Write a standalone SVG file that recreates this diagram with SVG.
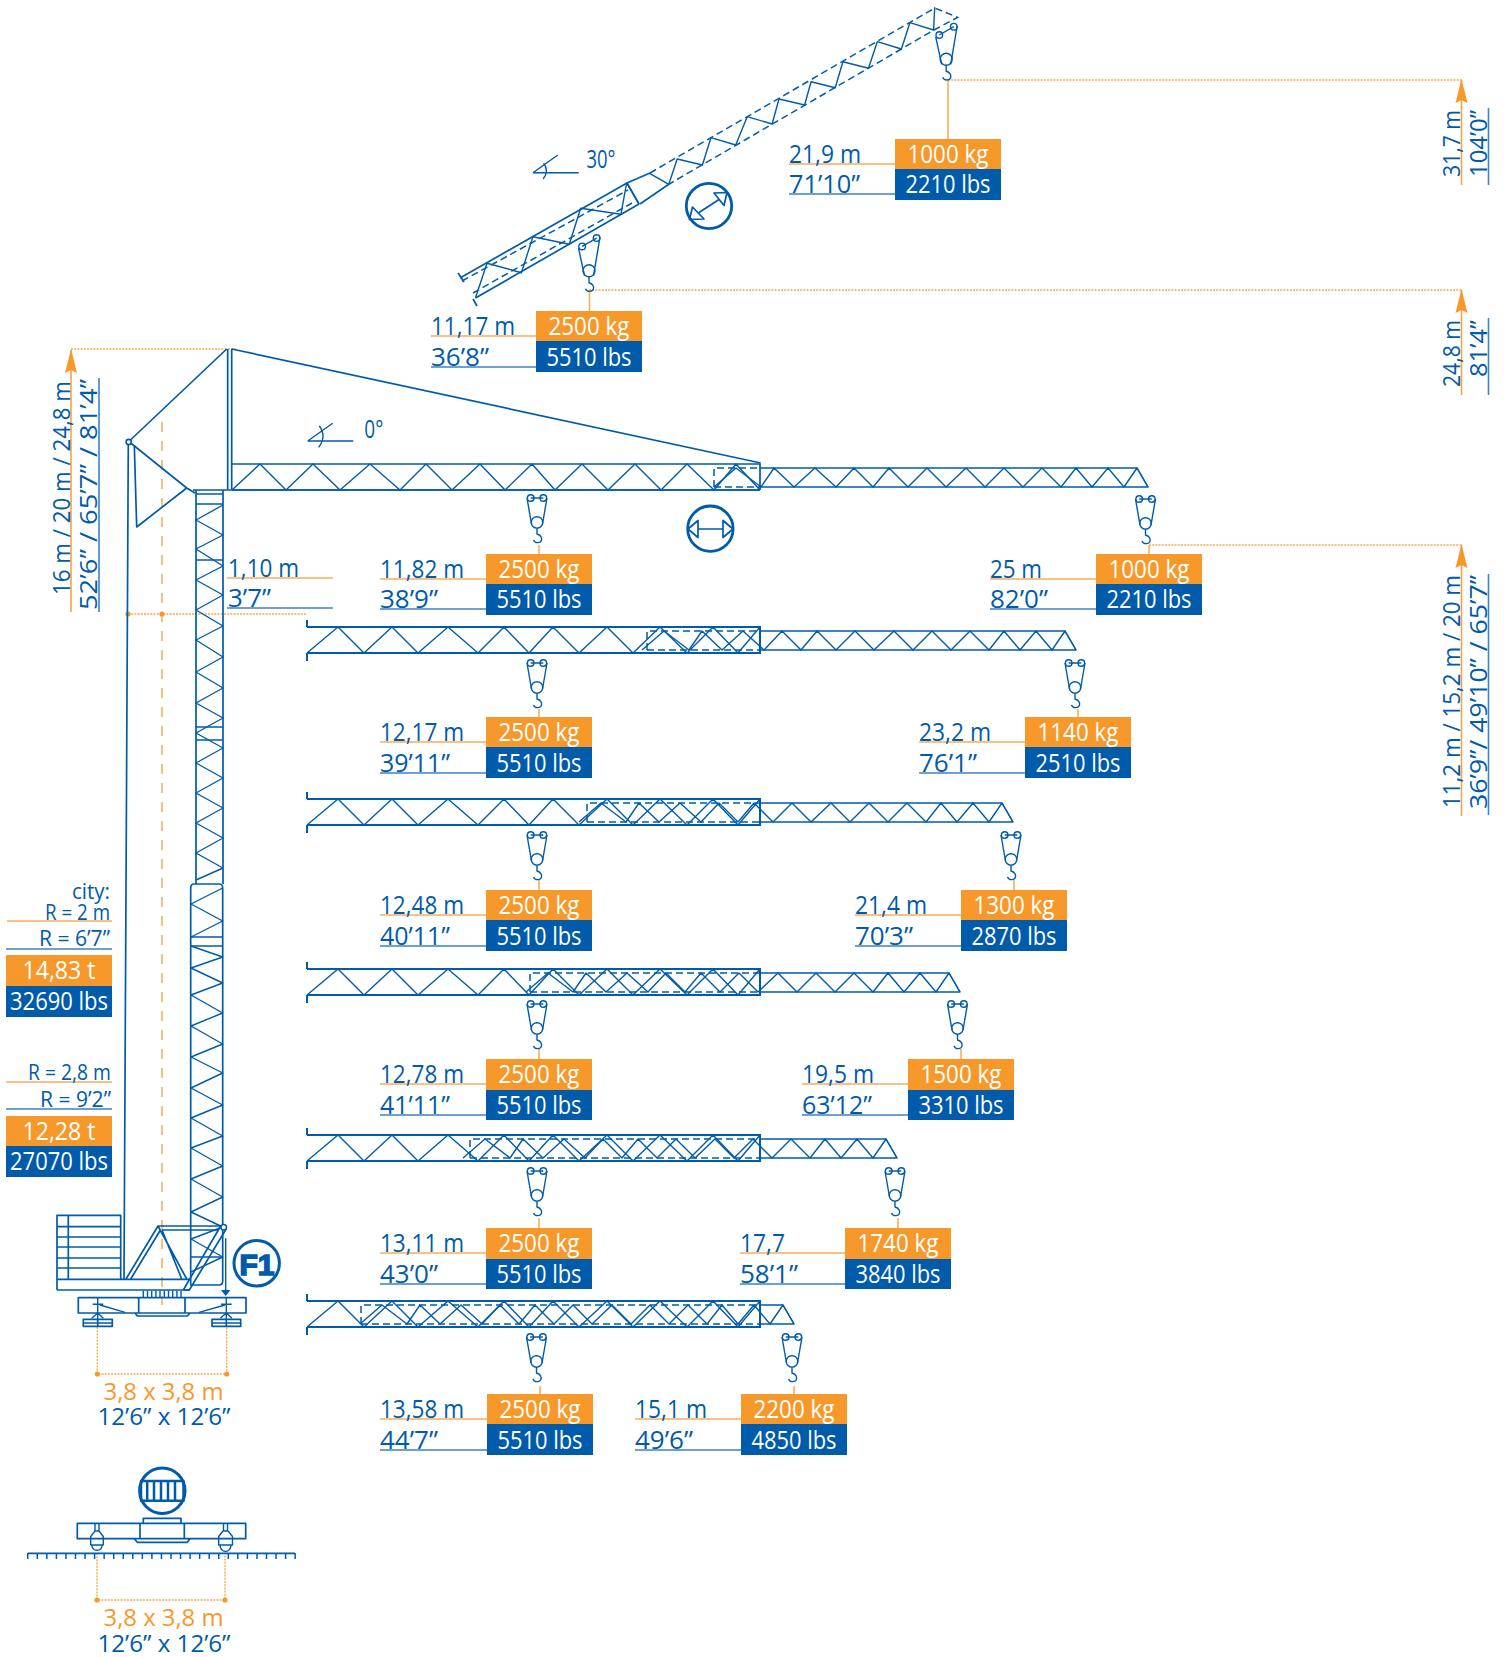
<svg xmlns="http://www.w3.org/2000/svg" width="1504" height="1657" viewBox="0 0 1504 1657">
<style>
text{font-family:"Open Sans","Noto Sans","DejaVu Sans",sans-serif;font-size:25.5px;fill:#005baa}
.w{fill:#fff;text-anchor:middle}
.o{fill:#f7982b}
.m{text-anchor:middle}
.e{text-anchor:end;font-size:21.5px}
.v{font-size:24px}
.s{fill:none;stroke:#005baa;stroke-width:1.7;stroke-linejoin:round}
.t{fill:none;stroke:#005baa;stroke-width:1.4;stroke-linejoin:round}
.d{fill:none;stroke:#005baa;stroke-width:1.5;stroke-dasharray:7 4}
.lo{fill:none;stroke:#f9ae5a;stroke-width:1.6}
.lb{fill:none;stroke:#3f83c0;stroke-width:1.6}
.dot{fill:none;stroke:#f8a94e;stroke-width:1.4;stroke-dasharray:2 1.2}
.dash{fill:none;stroke:#f9b96e;stroke-width:1.8;stroke-dasharray:10 9}
.fo{fill:#f7982b}
.fb{fill:#005baa}
</style>
<defs>
<g id="hook" class="t">
<circle cx="-6.3" cy="0" r="3.3"/><circle cx="6.3" cy="0" r="3.3"/><path d="M-6.3,0H6.3M-10,0L-5.5,26M10,0L5.5,26"/>
<circle cx="0" cy="24.4" r="5.7"/><path d="M0,30V36C4,37 5,40 4.5,42C4,45 -2,46 -3.5,42"/>
</g>
<g id="hookb" class="t">
<circle cx="-6.9" cy="-24.3" r="3.3"/><circle cx="7.6" cy="-32.6" r="3.3"/><path d="M-6.9,-24.3L7.6,-32.6M-10.5,-22.5L-4.5,5M11,-33.5L4.5,5"/>
<circle cx="0" cy="0" r="6"/><path d="M0,6V12C4,13 5,16 4.5,18C4,21 -2,22 -3.5,18"/>
</g>
<polyline id="tip" class="t" points="-434,19 -412,0 -387,19 -374,0 -354,19 -333,0 -312,19 -294,0 -275,19 -259,0 -240,19 -221,0 -202,19 -182,0 -163,19 -144,0 -125,19 -106,0 -87,19 -72,0 -56,19 -40,0 -24,19 -11,0 0,19"/>
<path id="base" fill="none" stroke="#005baa" stroke-width="2" d="M307,0H760V27M307,26H760M307,-7V0M307,26V34"/>
<polyline id="basez" class="t" points="307,26 338,0 364,26 392,0 418,26 448,0 478,26 504,0 529,26 553,0 579,26 607,0 633,26 660,0 687,26 713,0 738,26 760,0"/>
</defs>

<g id="connectors">
<path class="dot" d="M948,80H1462M589,290H1462M1149,545H1462M71,349H237M128,614H307M97.3,1327V1374H226.7V1327M97,1553V1600H225V1553"/>
<path class="dash" d="M162,422V1305"/>
<path class="lo" d="M948,80V139M589.5,290V311M539,545V554M1149,545V554M539,709V717M1078,709V717M539,880V890M1014,880V890M539,1049V1059M961,1049V1059M539,1218V1228M898,1218V1228M540,1386V1394M794,1386V1394"/>
<path class="lo" d="M789,164H895M431,336H536M380,579H486M990,579H1096M227,578H333M380,742H486M919,742H1025M380,915H486M855,915H961M380,1084H486M802,1084H908M380,1253H486M740,1253H845M380,1419H487M635,1419H741M7,921H112M6,1082H112"/>
<path class="lb" d="M789,194H895M431,367H536M380,609H486M990,609H1096M227,608H333M380,773H486M919,773H1025M380,946H486M855,946H961M380,1115H486M802,1115H908M380,1284H486M740,1284H845M380,1450H487M635,1450H741M6,949H112M6,1109H112M99,378V612M1488.5,108V185M1488.5,318V395M1488.5,574V815"/>
<path fill="none" stroke="#f7a445" stroke-width="1.6" d="M71,612V350M1461.5,185V80M1461.5,395V290M1461.5,816V545"/>
<path class="fo" d="M71,349L77,373L71,370L65,373ZM1461.5,79L1467.5,103L1461.5,100L1455.5,103ZM1461.5,289L1467.5,313L1461.5,310L1455.5,313ZM1461.5,544L1467.5,568L1461.5,565L1455.5,568Z"/>
<g class="fo"><circle cx="128" cy="614" r="2.6"/><circle cx="162" cy="614" r="2.6"/><circle cx="97.3" cy="1374" r="2.6"/><circle cx="226.7" cy="1374" r="2.6"/><circle cx="97" cy="1600" r="2.6"/><circle cx="225" cy="1600" r="2.6"/></g>
</g>

<g id="crane-mast">
<path class="s" d="M128.3,442L124,1279M128.3,442L226.7,349M227.7,349V490M231.7,349V490M231.7,349L760.7,463M130.7,443L186.7,488L195,493M134.3,445L136.7,527L186.7,488M193,490H760"/>
<circle cx="128.7" cy="442" r="2.6" fill="#fff" stroke="#005baa" stroke-width="1.6"/>
<path class="s" d="M196,490V884M223,490V884M196,494H223M196,504H223M196,560H223M196,727H223M196,740H223"/>
<polyline class="t" points="223,505 196,520 223,535 196,549 223,566 196,580 223,595 196,610 223,626 196,640 223,657 196,672 223,688 196,703 223,718 196,733 223,748 196,763 223,778 196,793 223,808 196,823 223,838 196,853 223,868 196,880"/>
<path class="s" d="M190.7,888Q190.7,884 194,884H219Q222.7,884 222.7,888V1281Q222.7,1285 219,1285H190.7V888M191,937H222.7M191,946H222.7M191,1257H222.7"/>
<polyline class="t" points="222.7,888 191,904 222.7,921 191,937"/>
<polyline class="t" points="191,946 222.7,957 191,968 222.7,983 191,995 222.7,1013 191,1026 222.7,1044 191,1057 222.7,1073 191,1088 222.7,1105 191,1118 222.7,1136 191,1148 222.7,1166 191,1179 222.7,1197 191,1212 222.7,1227 191,1239 222.7,1257 191,1272"/>
</g>

<g id="crane-base">
<path class="s" d="M57,1215.3H120.7V1279.3H57ZM57,1226.7H120.7M57,1237H120.7M57,1247H120.7M57,1258H120.7M57,1268H120.7M68.3,1215.3V1279.3M57,1279.3H190M57,1290H190M57,1279.3V1290"/>
<path class="s" d="M126,1279L158,1226H221.7M130.7,1279L160,1230.7M162.3,1230.7L181.7,1279M158,1226L186.7,1279M162,1230H218M183.3,1290L220.7,1226M189.3,1290L226,1229.3M183.3,1290H189.3"/>
<circle cx="223.7" cy="1227.3" r="2.8" fill="#fff" stroke="#005baa" stroke-width="1.5"/>
<path class="t" d="M143.3,1290.7V1297.7M147.5,1290.7V1297.7M151.7,1290.7V1297.7M155.9,1290.7V1297.7M160,1290.7V1297.7M164.3,1290.7V1297.7M168.5,1290.7V1297.7M172.7,1290.7V1297.7M176.9,1290.7V1297.7M181,1290.7V1297.7"/>
<path class="s" d="M78.3,1297.7H246V1313H78.3ZM138.7,1297.7V1313M185,1297.7V1313M135,1313L137.3,1316H187.3L190,1313"/>
<path class="t" d="M100,1305L125,1312.3M199,1312.3L225,1305M97.7,1297.7V1319M92.7,1304.3H103.3M91.7,1318.3L97.7,1313L103.3,1318.3M226.3,1297.7V1319M221,1304.3H231.7M220.3,1318.3L226.3,1313L232,1318.3"/>
<path class="s" d="M83.3,1319.3H112.3V1326.3H83.3ZM83.3,1323H112.3M97.7,1319.3V1326.3M212,1319.3H240.7V1326.3H212ZM212,1323H240.7M226.3,1319.3V1326.3"/>
<path class="t" d="M225.7,1238.3V1290"/><path class="fb" d="M221,1290H230.4L225.7,1296Z"/>
</g>

<g id="side-view">
<path class="s" d="M77.3,1523.3H245.7V1538.7H77.3ZM140,1523.3V1538.7M184.3,1523.3V1538.7M143.3,1523.3V1518.3H181V1523.3M134.3,1538.7L137.3,1542.3H187.3L190,1538.7"/>
<path class="t" d="M95,1523.3V1531M99,1523.3V1531M90.7,1545V1536.5L95,1531H99L103.3,1536.5V1545ZM91.7,1545A5.4,6.5 0 0 0 102.3,1545M223.5,1523.3V1531M227.5,1523.3V1531M218.7,1545V1536.5L223,1531H228L232.5,1536.5V1545ZM220,1545A5.5,6.5 0 0 0 231,1545"/>
<path class="s" d="M27.7,1553.3H295"/>
<path fill="none" stroke="#005baa" stroke-width="6" stroke-dasharray="1.5 8.05" d="M27,1556H297"/>
</g>

<g id="badge-grid"><circle cx="162.3" cy="1490.7" r="22.7" fill="#fff" stroke="#005baa" stroke-width="3"/>
<path fill="none" stroke="#005baa" stroke-width="2.6" d="M140,1481H184.5M140,1500.7H184.5"/><path fill="none" stroke="#005baa" stroke-width="2.5" d="M141,1481V1500.7M147.2,1481V1500.7M154,1481V1500.7M161,1481V1500.7M168,1481V1500.7M175,1481V1500.7M183.5,1481V1500.7"/></g>
<g id="badge-f1"><circle cx="256.7" cy="1263.3" r="22.7" fill="#fff" stroke="#005baa" stroke-width="3"/><text x="257" y="1274.5" class="m" style="font-family:'Liberation Sans',sans-serif;font-weight:700;font-size:30px" stroke="#005baa" stroke-width="1.6">F1</text></g>
<g id="badge-telescope"><circle cx="710.4" cy="528.7" r="22.7" fill="#fff" stroke="#005baa" stroke-width="2.8"/><path class="s" d="M698,529H723M698,520.5V537.5L688,529ZM723,520.5V537.5L733,529Z"/></g>
<g id="badge-telescope-30"><circle cx="709" cy="206" r="22.7" fill="#fff" stroke="#005baa" stroke-width="2.8"/><path class="s" d="M699,212.5L719,199.5M692.5,207L704,219L689.5,219.5ZM714,193L727,192.5L724,205.5Z"/></g>

<g id="boom-30">
<path class="s" d="M460,278L627,183M475.5,298L639,204M458,273L464,282M473,299L477,306M627,183L639,204M627,183L650,173M640,204L668.8,184.3"/>
<polyline class="t" points="475.5,297.7 487,263.3 521.4,272.7 532.9,236.7 569.3,244.3 580.7,208.3 620.9,214.3 626.7,182.7 638.9,204"/>
<polyline class="t" points="649.6,173.3 668.8,184.3 677.2,159 702.4,165 710.9,137.7 735.7,145 747.2,116.7 772.1,124 779,99 804.6,105 811.1,81.7 835.2,87.7 842.9,61.7 868.5,68.3 877.3,41.7 901.4,49 909.9,22.7 933.6,30 934.7,7.3"/>
<path class="d" d="M462,281L628,190M473,293L632,203M650,173L934.7,8L957.7,17.3L934,30L668.8,184.3"/>
<use href="#hookb" x="946.2" y="59.3"/>
<use href="#hookb" x="589" y="270.7"/>
</g>
<g id="angle-30"><path class="t" d="M533,172.7H578.8M533,172.7L557.8,155M543.6,163.3Q549.5,171 543.2,179"/><text x="586.5" y="168" textLength="29" lengthAdjust="spacingAndGlyphs">30°</text></g>
<g id="angle-0"><path class="t" d="M307.7,441H353.3M307.7,441L332.7,423.3M319.3,426Q327,436 318.7,447.3"/><text x="364.3" y="437.7" textLength="19" lengthAdjust="spacingAndGlyphs">0°</text></g>

<g id="jib-row-1">
<path class="s" d="M232,464H760V490M232,490H760"/>
<polyline class="t" points="232,490 260,464 286,490 313,464 340,490 370,464 400,490 426,464 452,490 480,464 505,490 532,464 555,490 582,464 608,490 635,464 661,490 687,464 714,490 736,464 760,490"/>
<use href="#tip" x="1148" y="468"/>
<path class="t" d="M760,468H1137L1148,487H760"/><path class="d" d="M714,487V468H760M714,487H760"/>
<use href="#hook" x="537" y="498"/><use href="#hook" x="1145.5" y="499"/>
</g>
<g id="jib-row-2"><use href="#base" y="627"/><use href="#basez" y="627"/><use href="#tip" x="1076" y="631"/>
<path class="t" d="M760,631H1065L1076,650H760"/><path class="d" d="M647,650V631H760M647,650H760"/>
<use href="#hook" x="537" y="663"/><use href="#hook" x="1075" y="663"/></g>
<g id="jib-row-3"><use href="#base" y="799"/><use href="#basez" y="799"/><use href="#tip" x="1013" y="803"/>
<path class="t" d="M760,803H1002L1013,822H760"/><path class="d" d="M587,822V803H760M587,822H760"/>
<use href="#hook" x="537" y="835"/><use href="#hook" x="1011" y="835"/></g>
<g id="jib-row-4"><use href="#base" y="969"/><use href="#basez" y="969"/><use href="#tip" x="960" y="973"/>
<path class="t" d="M760,973H949L960,992H760"/><path class="d" d="M530,992V973H760M530,992H760"/>
<use href="#hook" x="537" y="1004"/><use href="#hook" x="957.5" y="1004"/></g>
<g id="jib-row-5"><use href="#base" y="1135"/><use href="#basez" y="1135"/><use href="#tip" x="897" y="1139"/>
<path class="t" d="M760,1139H886L897,1158H760"/><path class="d" d="M470,1158V1139H760M470,1158H760"/>
<use href="#hook" x="537" y="1171"/><use href="#hook" x="895" y="1171"/></g>
<g id="jib-row-6"><use href="#base" y="1301"/><use href="#basez" y="1301"/><use href="#tip" x="794" y="1305"/>
<path class="t" d="M760,1305H783L794,1324H760"/><path class="d" d="M361,1324V1305H760M361,1324H760"/>
<use href="#hook" x="536.5" y="1337"/><use href="#hook" x="792" y="1337"/></g>

<g id="load-top-1"><rect class="fo" x="895" y="139" width="106" height="31"/><rect class="fb" x="895" y="169" width="106" height="31"/><text class="w" x="948" y="163" textLength="81" lengthAdjust="spacingAndGlyphs">1000 kg</text><text class="w" x="948" y="193" textLength="85" lengthAdjust="spacingAndGlyphs">2210 lbs</text><text x="789" y="163" textLength="72" lengthAdjust="spacingAndGlyphs">21,9 m</text><text x="789" y="193" textLength="71" lengthAdjust="spacingAndGlyphs">71’10”</text></g>
<g id="load-top-2"><rect class="fo" x="536" y="311" width="106" height="31"/><rect class="fb" x="536" y="341" width="106" height="31"/><text class="w" x="589" y="335" textLength="81" lengthAdjust="spacingAndGlyphs">2500 kg</text><text class="w" x="589" y="366" textLength="85" lengthAdjust="spacingAndGlyphs">5510 lbs</text><text x="431" y="335" textLength="84" lengthAdjust="spacingAndGlyphs">11,17 m</text><text x="431" y="366" textLength="58" lengthAdjust="spacingAndGlyphs">36’8”</text></g>

<g id="load-1a"><rect class="fo" x="486" y="554" width="106" height="31"/><rect class="fb" x="486" y="584" width="106" height="31"/><text class="w" x="539" y="578" textLength="81" lengthAdjust="spacingAndGlyphs">2500 kg</text><text class="w" x="539" y="608" textLength="85" lengthAdjust="spacingAndGlyphs">5510 lbs</text><text x="380" y="578" textLength="84" lengthAdjust="spacingAndGlyphs">11,82 m</text><text x="380" y="608" textLength="58" lengthAdjust="spacingAndGlyphs">38’9”</text></g>
<g id="load-1b"><rect class="fo" x="1096" y="554" width="106" height="31"/><rect class="fb" x="1096" y="584" width="106" height="31"/><text class="w" x="1149" y="578" textLength="81" lengthAdjust="spacingAndGlyphs">1000 kg</text><text class="w" x="1149" y="608" textLength="85" lengthAdjust="spacingAndGlyphs">2210 lbs</text><text x="990" y="578" textLength="52" lengthAdjust="spacingAndGlyphs">25 m</text><text x="990" y="608" textLength="58" lengthAdjust="spacingAndGlyphs">82’0”</text></g>
<g id="load-2a"><rect class="fo" x="486" y="717" width="106" height="31"/><rect class="fb" x="486" y="747" width="106" height="31"/><text class="w" x="539" y="741" textLength="81" lengthAdjust="spacingAndGlyphs">2500 kg</text><text class="w" x="539" y="772" textLength="85" lengthAdjust="spacingAndGlyphs">5510 lbs</text><text x="380" y="741" textLength="84" lengthAdjust="spacingAndGlyphs">12,17 m</text><text x="380" y="772" textLength="70" lengthAdjust="spacingAndGlyphs">39’11”</text></g>
<g id="load-2b"><rect class="fo" x="1025" y="717" width="106" height="31"/><rect class="fb" x="1025" y="747" width="106" height="31"/><text class="w" x="1078" y="741" textLength="81" lengthAdjust="spacingAndGlyphs">1140 kg</text><text class="w" x="1078" y="772" textLength="85" lengthAdjust="spacingAndGlyphs">2510 lbs</text><text x="919" y="741" textLength="72" lengthAdjust="spacingAndGlyphs">23,2 m</text><text x="919" y="772" textLength="58" lengthAdjust="spacingAndGlyphs">76’1”</text></g>
<g id="load-3a"><rect class="fo" x="486" y="890" width="106" height="31"/><rect class="fb" x="486" y="920" width="106" height="31"/><text class="w" x="539" y="914" textLength="81" lengthAdjust="spacingAndGlyphs">2500 kg</text><text class="w" x="539" y="945" textLength="85" lengthAdjust="spacingAndGlyphs">5510 lbs</text><text x="380" y="914" textLength="84" lengthAdjust="spacingAndGlyphs">12,48 m</text><text x="380" y="945" textLength="70" lengthAdjust="spacingAndGlyphs">40’11”</text></g>
<g id="load-3b"><rect class="fo" x="961" y="890" width="106" height="31"/><rect class="fb" x="961" y="920" width="106" height="31"/><text class="w" x="1014" y="914" textLength="81" lengthAdjust="spacingAndGlyphs">1300 kg</text><text class="w" x="1014" y="945" textLength="85" lengthAdjust="spacingAndGlyphs">2870 lbs</text><text x="855" y="914" textLength="72" lengthAdjust="spacingAndGlyphs">21,4 m</text><text x="855" y="945" textLength="58" lengthAdjust="spacingAndGlyphs">70’3”</text></g>
<g id="load-4a"><rect class="fo" x="486" y="1059" width="106" height="32"/><rect class="fb" x="486" y="1090" width="106" height="30"/><text class="w" x="539" y="1083" textLength="81" lengthAdjust="spacingAndGlyphs">2500 kg</text><text class="w" x="539" y="1114" textLength="85" lengthAdjust="spacingAndGlyphs">5510 lbs</text><text x="380" y="1083" textLength="84" lengthAdjust="spacingAndGlyphs">12,78 m</text><text x="380" y="1114" textLength="70" lengthAdjust="spacingAndGlyphs">41’11”</text></g>
<g id="load-4b"><rect class="fo" x="908" y="1059" width="106" height="32"/><rect class="fb" x="908" y="1090" width="106" height="30"/><text class="w" x="961" y="1083" textLength="81" lengthAdjust="spacingAndGlyphs">1500 kg</text><text class="w" x="961" y="1114" textLength="85" lengthAdjust="spacingAndGlyphs">3310 lbs</text><text x="802" y="1083" textLength="72" lengthAdjust="spacingAndGlyphs">19,5 m</text><text x="802" y="1114" textLength="70" lengthAdjust="spacingAndGlyphs">63’12”</text></g>
<g id="load-5a"><rect class="fo" x="486" y="1228" width="106" height="32"/><rect class="fb" x="486" y="1259" width="106" height="30"/><text class="w" x="539" y="1252" textLength="81" lengthAdjust="spacingAndGlyphs">2500 kg</text><text class="w" x="539" y="1283" textLength="85" lengthAdjust="spacingAndGlyphs">5510 lbs</text><text x="380" y="1252" textLength="84" lengthAdjust="spacingAndGlyphs">13,11 m</text><text x="380" y="1283" textLength="58" lengthAdjust="spacingAndGlyphs">43’0”</text></g>
<g id="load-5b"><rect class="fo" x="845" y="1228" width="106" height="32"/><rect class="fb" x="845" y="1259" width="106" height="30"/><text class="w" x="898" y="1252" textLength="81" lengthAdjust="spacingAndGlyphs">1740 kg</text><text class="w" x="898" y="1283" textLength="85" lengthAdjust="spacingAndGlyphs">3840 lbs</text><text x="740" y="1252" textLength="45" lengthAdjust="spacingAndGlyphs">17,7</text><text x="740" y="1283" textLength="58" lengthAdjust="spacingAndGlyphs">58’1”</text></g>
<g id="load-6a"><rect class="fo" x="487" y="1394" width="106" height="31"/><rect class="fb" x="487" y="1424" width="106" height="31"/><text class="w" x="540" y="1418" textLength="81" lengthAdjust="spacingAndGlyphs">2500 kg</text><text class="w" x="540" y="1449" textLength="85" lengthAdjust="spacingAndGlyphs">5510 lbs</text><text x="380" y="1418" textLength="84" lengthAdjust="spacingAndGlyphs">13,58 m</text><text x="380" y="1449" textLength="58" lengthAdjust="spacingAndGlyphs">44’7”</text></g>
<g id="load-6b"><rect class="fo" x="741" y="1394" width="106" height="31"/><rect class="fb" x="741" y="1424" width="106" height="31"/><text class="w" x="794" y="1418" textLength="81" lengthAdjust="spacingAndGlyphs">2200 kg</text><text class="w" x="794" y="1449" textLength="85" lengthAdjust="spacingAndGlyphs">4850 lbs</text><text x="635" y="1418" textLength="72" lengthAdjust="spacingAndGlyphs">15,1 m</text><text x="635" y="1449" textLength="58" lengthAdjust="spacingAndGlyphs">49’6”</text></g>

<g id="offset-label"><text x="228" y="577" textLength="71" lengthAdjust="spacingAndGlyphs">1,10 m</text><text x="228" y="607" textLength="43" lengthAdjust="spacingAndGlyphs">3’7”</text></g>

<g id="counterweight-1"><text x="110" y="899" class="e" textLength="38" lengthAdjust="spacingAndGlyphs">city:</text><text x="110" y="920" class="e" textLength="65" lengthAdjust="spacingAndGlyphs">R = 2 m</text><text x="110" y="946" class="e" textLength="71" lengthAdjust="spacingAndGlyphs">R = 6’7”</text>
<rect class="fo" x="6" y="955" width="106" height="32"/><rect class="fb" x="6" y="986" width="106" height="31"/><text class="w" x="59" y="979" textLength="73" lengthAdjust="spacingAndGlyphs">14,83 t</text><text class="w" x="59" y="1010" textLength="98" lengthAdjust="spacingAndGlyphs">32690 lbs</text></g>
<g id="counterweight-2"><text x="111" y="1080" class="e" textLength="83" lengthAdjust="spacingAndGlyphs">R = 2,8 m</text><text x="111" y="1107" class="e" textLength="71" lengthAdjust="spacingAndGlyphs">R = 9’2”</text>
<rect class="fo" x="6" y="1116" width="106" height="31"/><rect class="fb" x="6" y="1146" width="106" height="31"/><text class="w" x="59" y="1140" textLength="73" lengthAdjust="spacingAndGlyphs">12,28 t</text><text class="w" x="59" y="1170" textLength="98" lengthAdjust="spacingAndGlyphs">27070 lbs</text></g>

<g id="footprint-labels"><text class="o m v" x="163.5" y="1400" textLength="120" lengthAdjust="spacingAndGlyphs">3,8 x 3,8 m</text><text class="m v" x="164" y="1425" textLength="133" lengthAdjust="spacingAndGlyphs">12’6” x 12’6”</text>
<text class="o m v" x="163.5" y="1626" textLength="120" lengthAdjust="spacingAndGlyphs">3,8 x 3,8 m</text><text class="m v" x="164" y="1652" textLength="133" lengthAdjust="spacingAndGlyphs">12’6” x 12’6”</text></g>

<g id="height-labels">
<text class="v" transform="translate(70,595) rotate(-90)" textLength="214" lengthAdjust="spacingAndGlyphs">16 m / 20 m / 24,8 m</text>
<text class="v" transform="translate(97,610) rotate(-90)" textLength="231" lengthAdjust="spacingAndGlyphs">52’6” / 65’7” / 81’4”</text>
<text class="v" transform="translate(1460,177) rotate(-90)" textLength="67" lengthAdjust="spacingAndGlyphs">31,7 m</text>
<text class="v" transform="translate(1487,177) rotate(-90)" textLength="67" lengthAdjust="spacingAndGlyphs">104’0”</text>
<text class="v" transform="translate(1460,387) rotate(-90)" textLength="67" lengthAdjust="spacingAndGlyphs">24,8 m</text>
<text class="v" transform="translate(1487,377) rotate(-90)" textLength="57" lengthAdjust="spacingAndGlyphs">81’4”</text>
<text class="v" transform="translate(1460,808) rotate(-90)" textLength="233" lengthAdjust="spacingAndGlyphs">11,2 m / 15,2 m / 20 m</text>
<text class="v" transform="translate(1487,809) rotate(-90)" textLength="234" lengthAdjust="spacingAndGlyphs">36’9”/ 49’10” / 65’7”</text>
</g>
</svg>
